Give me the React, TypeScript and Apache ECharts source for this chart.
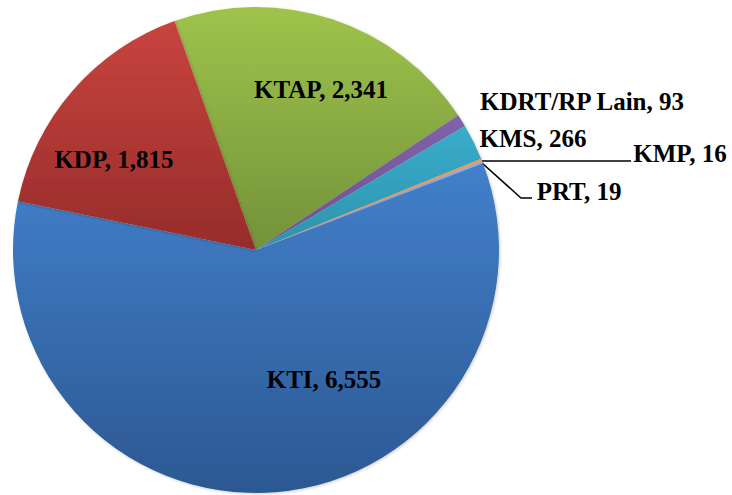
import React, { useEffect, useRef } from "react";
import * as echarts from "echarts";

const categories = ["KTAP", "KDRT/RP Lain", "KMS", "KMP", "PRT", "KTI", "KDP"];
const values = [2341, 93, 266, 16, 19, 6555, 1815];
const topColors = ["#9FC34B", "#8063A8", "#39ACCB", "#F79646", "#93ADD8", "#4280CB", "#C8443F"];
const bottomColors = ["#73923A", "#6E5192", "#2D93AE", "#E8833A", "#8299C6", "#2C5892", "#962C2A"];

// label anchor (center) positions, layout only
const labelPos: Record<string, [number, number]> = {
  KTAP: [321, 89],
  "KDRT/RP Lain": [582, 101],
  KMS: [533, 138],
  KMP: [680, 153],
  PRT: [579, 191],
  KTI: [324, 379],
  KDP: [114, 159],
};

export default function App() {
  const ref = useRef<HTMLDivElement>(null);
  useEffect(() => {
    if (!ref.current) return;
    const chart = echarts.init(ref.current, null, { renderer: "svg" });
    const data = categories.map((name, i) => ({
      name,
      value: values[i],
      itemStyle: {
        color: new echarts.graphic.LinearGradient(0, 0, 0, 1, [
          { offset: 0, color: topColors[i] },
          { offset: 1, color: bottomColors[i] },
        ]),
      },
      label: {
        position: name === "KTAP" || name === "KTI" || name === "KDP" ? "inside" : "outside",
      },
      labelLine: { show: name === "KMP" || name === "PRT" },
    }));
    chart.setOption({
      animation: false,
      backgroundColor: "#ffffff",
      series: [
        {
          type: "pie",
          center: [256, 250],
          radius: 243,
          startAngle: 109.6,
          clockwise: true,
          avoidLabelOverlap: false,
          data,
          itemStyle: {
            borderWidth: 0,
            shadowColor: "rgba(0,0,0,0.2)",
            shadowBlur: 3,
            shadowOffsetX: 1,
            shadowOffsetY: 1,
          },
          label: {
            show: true,
            formatter: (p: any) => `${p.name}, ${Number(p.value).toLocaleString("en-US")}`,
            fontFamily: "Liberation Serif",
            fontWeight: "bold",
            fontSize: 25,
            color: "#000000",
          },
          labelLine: {
            lineStyle: { color: "#000000", width: 1.5 },
            length: 20,
            length2: 20,
          },
          labelLayout: (params: any) => {
            const name = categories[params.dataIndex];
            const [x, y] = labelPos[name];
            const res: any = { x, y, align: "center", verticalAlign: "middle" };
            if (name === "KMP") {
              res.labelLinePoints = [[482, 161], [630, 161], [631, 161]];
            } else if (name === "PRT") {
              res.labelLinePoints = [[482, 163], [521, 198], [532, 198]];
            }
            return res;
          },
        },
      ],
    });
    return () => chart.dispose();
  }, []);
  return (
    <div
      ref={ref}
      style={{ position: "fixed", left: 0, top: 0, width: 732, height: 495 }}
    />
  );
}
